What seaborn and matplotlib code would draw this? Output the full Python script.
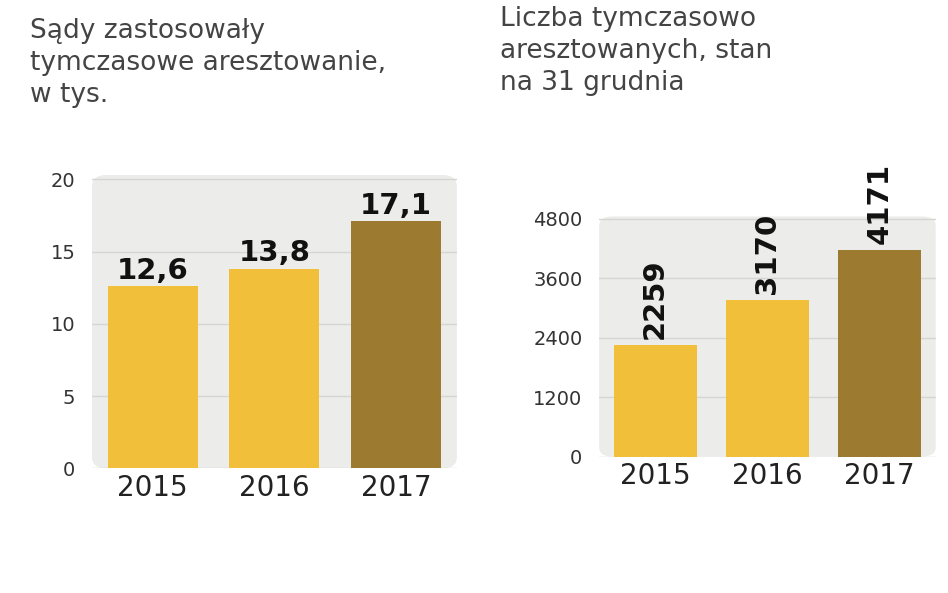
import matplotlib
matplotlib.use("Agg")
import matplotlib.pyplot as plt
import seaborn as sns
import pandas as pd
from matplotlib.patches import FancyBboxPatch

years = ["2015", "2016", "2017"]
left_values = [12.6, 13.8, 17.1]
left_labels = ["12,6", "13,8", "17,1"]
right_values = [2259, 3170, 4171]
right_labels = ["2259", "3170", "4171"]
left_ticks = [0, 5, 10, 15, 20]
right_ticks = [0, 1200, 2400, 3600, 4800]
colors = ["#F2BF3A", "#F2BF3A", "#9C7B30"]

fig = plt.figure(figsize=(9.48, 5.93), dpi=100)
fig.patch.set_facecolor("white")

def panel(rect, vals, labels, ticks, ymax, rot, title, title_y):
    ax = fig.add_axes(rect)
    df = pd.DataFrame({"year": years, "v": vals})
    sns.barplot(data=df, x="year", y="v", hue="year", palette=colors, legend=False,
                ax=ax, width=0.74, saturation=1, zorder=3)
    for p in ax.patches:
        p.set_linewidth(0)
    ax.set_facecolor("none")
    bg = FancyBboxPatch((0, 0), 1, 1, boxstyle="round,pad=0,rounding_size=0.04",
                        transform=ax.transAxes, facecolor="#ECECEA", edgecolor="none", zorder=0)
    ax.add_patch(bg)
    ax.set_ylim(0, ymax)
    ax.set_yticks(ticks)
    ax.yaxis.grid(True, color="#D5D5D2", lw=1, zorder=1)
    ax.set_axisbelow(True)
    ax.tick_params(axis="y", length=0, labelsize=14, colors="#333333", pad=12)
    ax.tick_params(axis="x", length=0, labelsize=20, colors="#222222", pad=4)
    for s in ax.spines.values():
        s.set_visible(False)
    ax.set_xlabel(""); ax.set_ylabel("")
    for i, (v, l) in enumerate(zip(vals, labels)):
        if rot:
            ax.text(i, v + ymax * 0.025, l, rotation=90, ha="center", va="bottom",
                    fontsize=21, fontweight="bold", color="#111111")
        else:
            ax.text(i, v + ymax * 0.005, l, ha="center", va="bottom",
                    fontsize=21, fontweight="bold", color="#111111")
    fig.text(title[0], title_y, title[1], ha="left", va="top", fontsize=19,
             color="#444444", linespacing=1.3)
    return ax

panel([0.097, 0.21, 0.385, 0.495], left_values, left_labels, left_ticks, 20.3, False,
      (0.032, "Sądy zastosowały\ntymczasowe aresztowanie,\nw tys."), 0.97)
panel([0.632, 0.23, 0.355, 0.405], right_values, right_labels, right_ticks, 4850, True,
      (0.527, "Liczba tymczasowo\naresztowanych, stan\nna 31 grudnia"), 0.99)

fig.savefig("out.png", dpi=100)
